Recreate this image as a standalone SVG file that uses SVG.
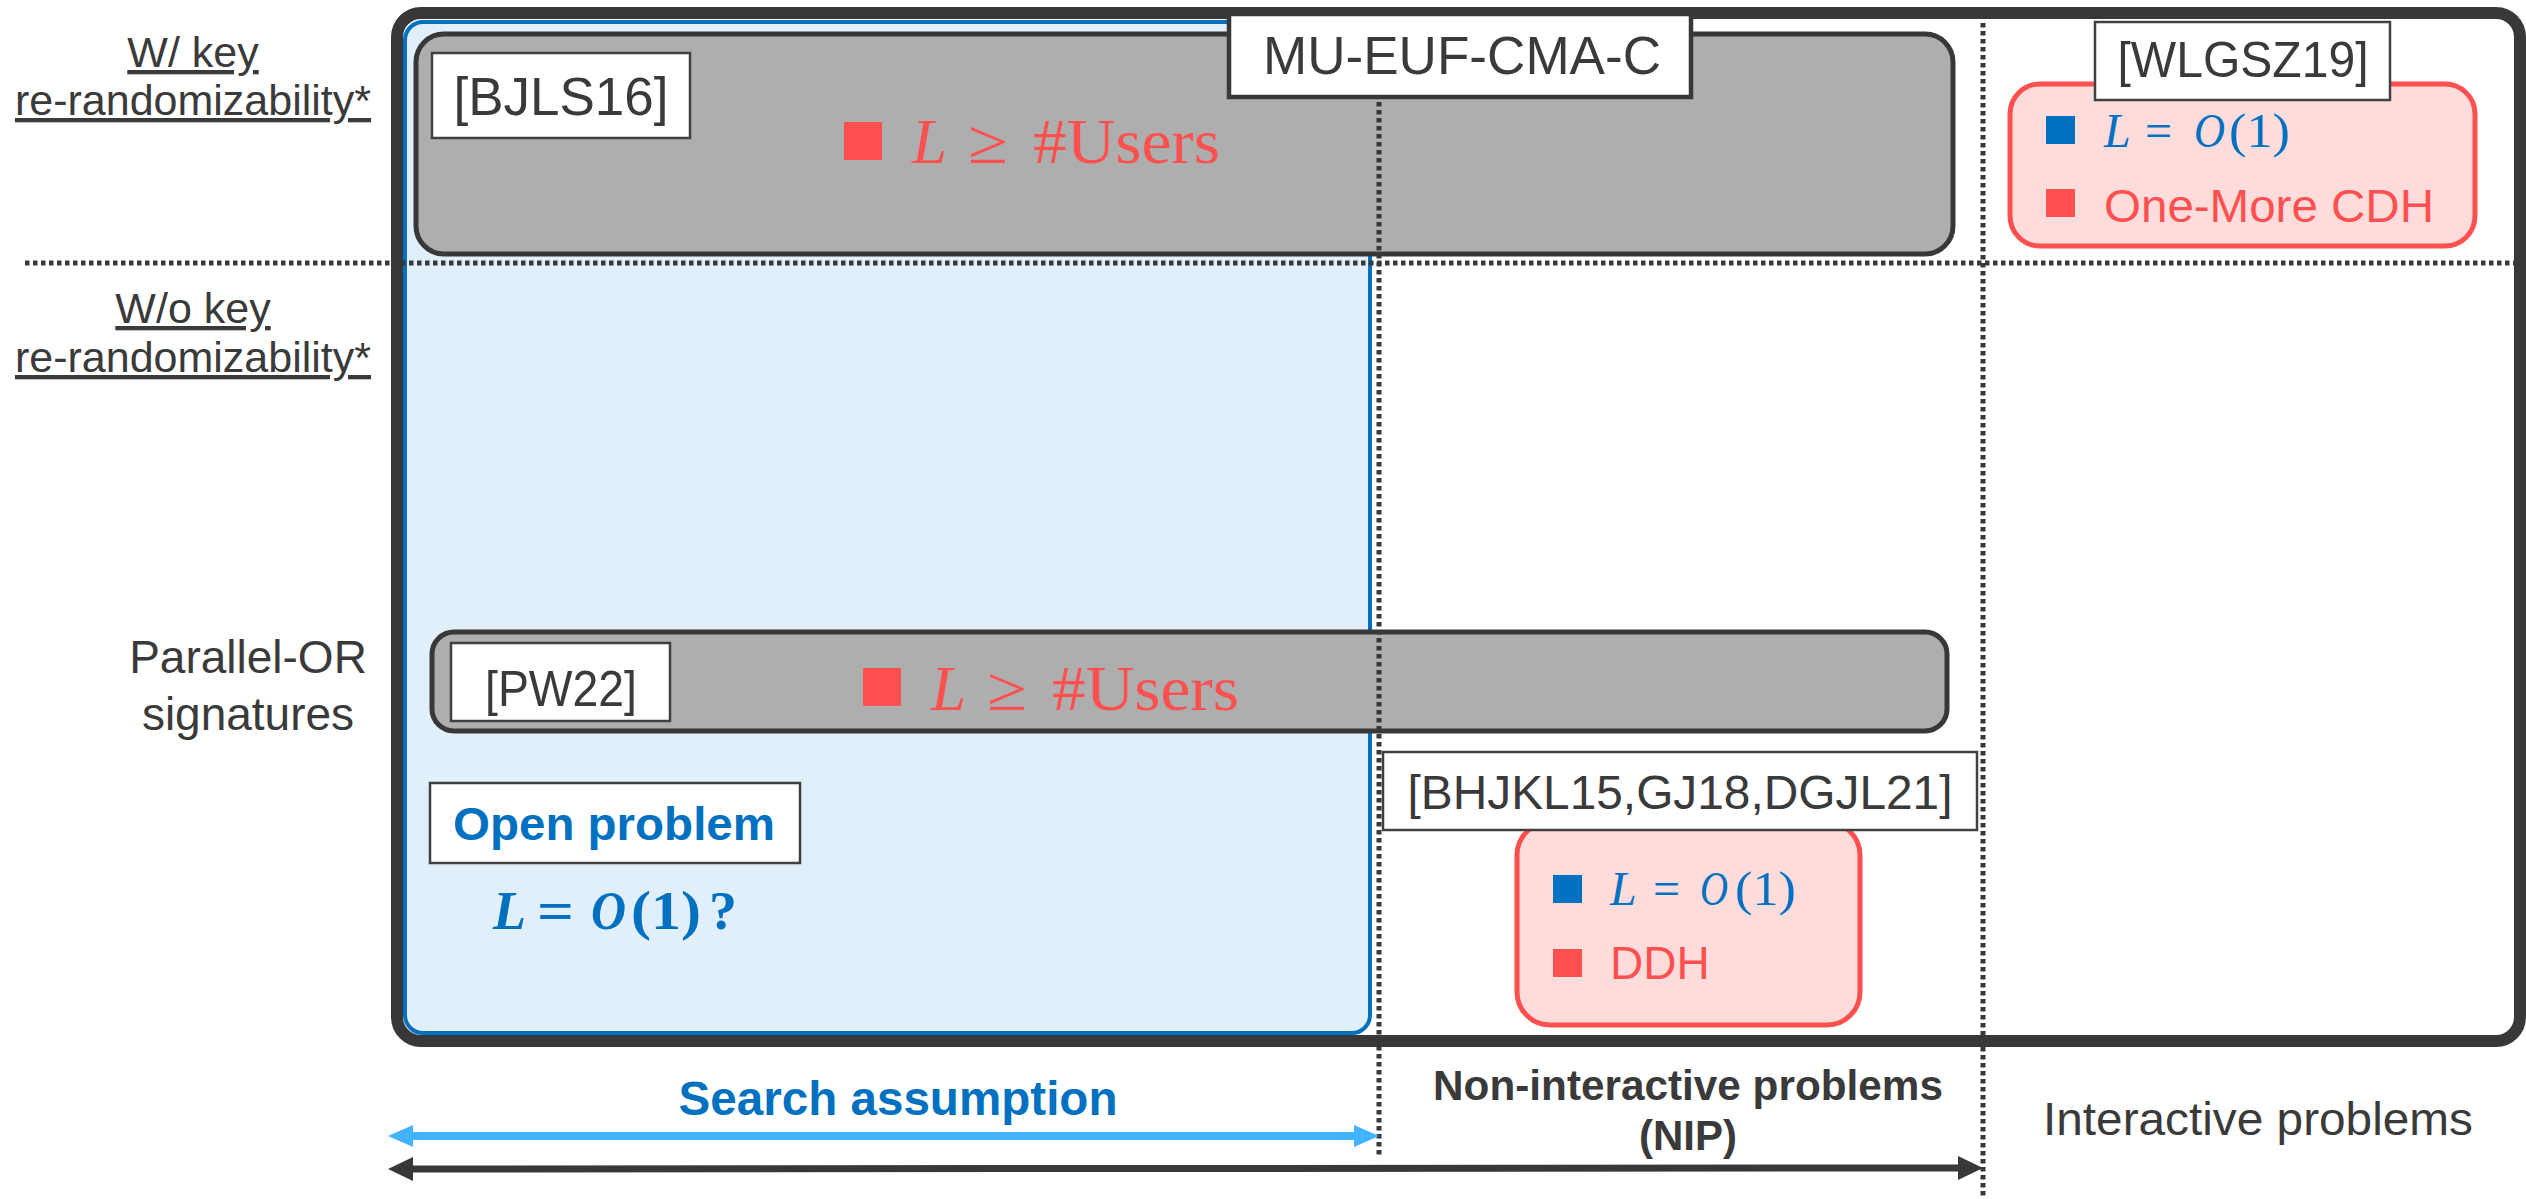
<svg xmlns="http://www.w3.org/2000/svg" width="2526" height="1199" viewBox="0 0 2526 1199">
  <defs>
    <style>
      .sans { font-family: "Liberation Sans", Arial, sans-serif; }
      .math { font-family: "Liberation Serif", "DejaVu Serif", serif; }
      .dark { fill: #3a3a3a; }
      .side { font-size: 43px; fill: #3a3a3a; text-anchor: middle; text-decoration: underline; }
      .label-box { fill: #ffffff; stroke: #404040; stroke-width: 2.5; }
      .gray-box { fill: #aeaeae; stroke: #383838; stroke-width: 5; }
      .pink-box { fill: #fedcdc; stroke: #ff5050; stroke-width: 5; }
      .dots { stroke: #383838; stroke-width: 5; stroke-dasharray: 4.5 3.5; fill: none; }
      .red { fill: #ff5050; }
      .blue { fill: #0070c0; }
      .it { font-style: italic; }
    </style>
    <marker id="head-blue" viewBox="0 0 25 22" markerWidth="25" markerHeight="22" refX="5" refY="11" orient="auto-start-reverse" markerUnits="userSpaceOnUse">
      <path d="M0,0 L25,11 L0,22 Z" fill="#41b3ff"/>
    </marker>
    <marker id="head-dark" viewBox="0 0 25 24" markerWidth="25" markerHeight="24" refX="5" refY="12" orient="auto-start-reverse" markerUnits="userSpaceOnUse">
      <path d="M0,0 L25,12 L0,24 Z" fill="#383838"/>
    </marker>
  </defs>

  <rect width="2526" height="1199" fill="#ffffff"/>

  <!-- row / column headings on the left -->
  <g id="row-labels" class="sans">
    <text class="side" x="193" y="67">W/ key</text>
    <text class="side" x="193" y="115">re-randomizability*</text>
    <text class="side" x="193" y="323">W/o key</text>
    <text class="side" x="193" y="372">re-randomizability*</text>
    <text x="248" y="673" font-size="46" class="dark" text-anchor="middle">Parallel-OR</text>
    <text x="248" y="730" font-size="46" class="dark" text-anchor="middle">signatures</text>
  </g>

  <!-- search-assumption region -->
  <g id="search-region">
    <rect x="405" y="22" width="965" height="1011" rx="18" fill="#e1effa" stroke="#0070c0" stroke-width="4"/>
  </g>

  <!-- horizontal separator between the two key rows -->
  <line class="dots" x1="25" y1="263" x2="2526" y2="263"/>

  <!-- BJLS16 scheme -->
  <g id="bjls16">
    <rect class="gray-box" x="416" y="34" width="1537" height="220" rx="28"/>
    <rect class="label-box" x="432" y="53" width="258" height="85"/>
    <text class="sans dark" x="561" y="115" font-size="53" text-anchor="middle">[BJLS16]</text>
    <rect class="red" x="844" y="122" width="38" height="38"/>
    <text class="math red" y="163" font-size="63">
      <tspan class="it" x="912">L</tspan>
      <tspan x="968" textLength="40" lengthAdjust="spacingAndGlyphs">≥</tspan>
      <tspan x="1033" textLength="187" lengthAdjust="spacingAndGlyphs">#Users</tspan>
    </text>
  </g>

  <!-- PW22 scheme -->
  <g id="pw22">
    <rect class="gray-box" x="432" y="632" width="1515" height="99" rx="22"/>
    <rect class="label-box" x="451" y="643" width="219" height="78"/>
    <text class="sans dark" x="561" y="706" font-size="50" text-anchor="middle" textLength="152" lengthAdjust="spacingAndGlyphs">[PW22]</text>
    <rect class="red" x="863" y="668" width="38" height="38"/>
    <text class="math red" y="710" font-size="63">
      <tspan class="it" x="931">L</tspan>
      <tspan x="987" textLength="40" lengthAdjust="spacingAndGlyphs">≥</tspan>
      <tspan x="1052" textLength="187" lengthAdjust="spacingAndGlyphs">#Users</tspan>
    </text>
  </g>

  <!-- column separators -->
  <g id="columns">
    <line class="dots" x1="1379" y1="30" x2="1379" y2="1155"/>
    <line class="dots" x1="1983" y1="23" x2="1983" y2="1199"/>
  </g>

  <!-- outer frame -->
  <rect id="frame" x="397" y="13" width="2123" height="1028" rx="24" fill="none" stroke="#383838" stroke-width="12"/>

  <!-- security notion title -->
  <g id="notion">
    <rect x="1229" y="14" width="462" height="83" fill="#ffffff" stroke="#383838" stroke-width="4.5"/>
    <text class="sans dark" x="1462" y="74" font-size="54" text-anchor="middle" textLength="398" lengthAdjust="spacingAndGlyphs">MU-EUF-CMA-C</text>
  </g>

  <!-- WLGSZ19 scheme -->
  <g id="wlgsz19">
    <rect class="pink-box" x="2010" y="84" width="465" height="162" rx="30"/>
    <rect class="label-box" x="2095" y="22" width="295" height="78"/>
    <text class="sans dark" x="2243" y="77" font-size="50" text-anchor="middle" textLength="251" lengthAdjust="spacingAndGlyphs">[WLGSZ19]</text>
    <rect class="blue" x="2046" y="116" width="29" height="28"/>
    <text class="math blue" y="147" font-size="48">
      <tspan class="it" x="2104">L</tspan>
      <tspan x="2145">=</tspan>
      <tspan class="it" x="2194" textLength="31" lengthAdjust="spacingAndGlyphs">O</tspan>
      <tspan x="2229" textLength="61" lengthAdjust="spacingAndGlyphs">(1)</tspan>
    </text>
    <rect class="red" x="2046" y="189" width="29" height="28"/>
    <text class="sans red" x="2104" y="222" font-size="46" textLength="330" lengthAdjust="spacingAndGlyphs">One-More CDH</text>
  </g>

  <!-- BHJKL15 / GJ18 / DGJL21 schemes -->
  <g id="bhjkl15">
    <rect class="pink-box" x="1517" y="822" width="343" height="203" rx="33"/>
    <rect class="label-box" x="1383" y="752" width="594" height="78"/>
    <text class="sans dark" x="1680" y="809" font-size="48" text-anchor="middle" textLength="545" lengthAdjust="spacingAndGlyphs">[BHJKL15,GJ18,DGJL21]</text>
    <rect class="blue" x="1553" y="875" width="29" height="28"/>
    <text class="math blue" y="905" font-size="48">
      <tspan class="it" x="1610">L</tspan>
      <tspan x="1653">=</tspan>
      <tspan class="it" x="1700" textLength="28" lengthAdjust="spacingAndGlyphs">O</tspan>
      <tspan x="1735" textLength="61" lengthAdjust="spacingAndGlyphs">(1)</tspan>
    </text>
    <rect class="red" x="1553" y="949" width="29" height="28"/>
    <text class="sans red" x="1610" y="979" font-size="46">DDH</text>
  </g>

  <!-- open question -->
  <g id="open-problem">
    <rect class="label-box" x="430" y="783" width="370" height="80"/>
    <text class="sans blue" x="453" y="840" font-size="47" font-weight="bold" textLength="322" lengthAdjust="spacingAndGlyphs">Open problem</text>
    <text class="math blue" y="929" font-size="54" font-weight="bold">
      <tspan class="it" x="493">L</tspan>
      <tspan x="537" textLength="37" lengthAdjust="spacingAndGlyphs">=</tspan>
      <tspan class="it" x="591" textLength="35" lengthAdjust="spacingAndGlyphs">O</tspan>
      <tspan x="631" textLength="70" lengthAdjust="spacingAndGlyphs">(1)</tspan>
      <tspan x="709" textLength="28" lengthAdjust="spacingAndGlyphs">?</tspan>
    </text>
  </g>

  <!-- assumption ranges along the bottom -->
  <g id="connectors">
    <line x1="408" y1="1136" x2="1359" y2="1136" stroke="#41b3ff" stroke-width="8" marker-start="url(#head-blue)" marker-end="url(#head-blue)"/>
    <line x1="408" y1="1169" x2="1963" y2="1168" stroke="#383838" stroke-width="7" marker-start="url(#head-dark)" marker-end="url(#head-dark)"/>
  </g>

  <g id="axis-labels" class="sans">
    <text x="898" y="1115" font-size="48" font-weight="bold" fill="#0070c0" text-anchor="middle" textLength="439" lengthAdjust="spacingAndGlyphs">Search assumption</text>
    <text x="1688" y="1100" font-size="42" font-weight="bold" class="dark" text-anchor="middle" textLength="510" lengthAdjust="spacingAndGlyphs">Non-interactive problems</text>
    <text x="1688" y="1150" font-size="42" font-weight="bold" class="dark" text-anchor="middle">(NIP)</text>
    <text x="2258" y="1135" font-size="46" class="dark" text-anchor="middle" textLength="430" lengthAdjust="spacingAndGlyphs">Interactive problems</text>
  </g>
</svg>
